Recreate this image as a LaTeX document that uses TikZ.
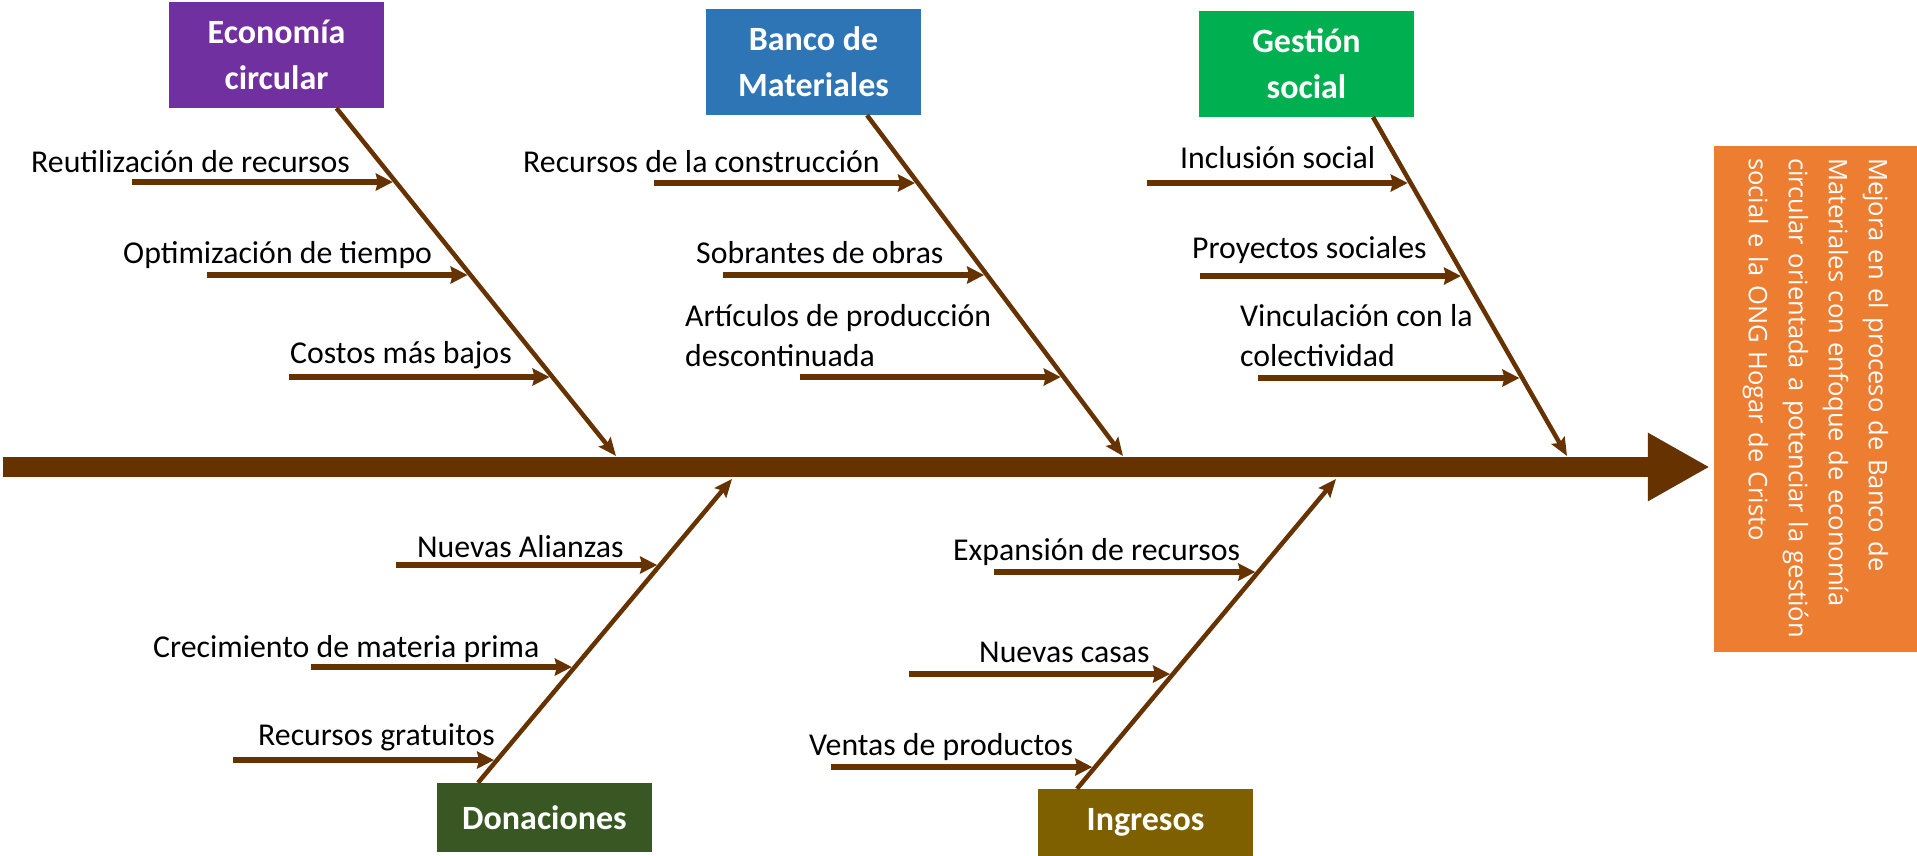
\documentclass[tikz,border=0pt]{standalone}
\usepackage{fontspec}
\setmainfont{Carlito}
\newfontfamily\goalfont{Open Sans}
\usepackage{tikz}
\usetikzlibrary{arrows.meta}

\definecolor{bonebrown}{HTML}{663300}
\definecolor{ecopurple}{HTML}{7030A0}
\definecolor{bancoblue}{HTML}{2E75B6}
\definecolor{gestgreen}{HTML}{00B050}
\definecolor{donagreen}{HTML}{385723}
\definecolor{ingrolive}{HTML}{7F6000}
\definecolor{goalorange}{HTML}{ED7D31}

\tikzset{
  catbox/.style={minimum width=215pt, inner sep=0pt, text=white, align=center,
                 font=\fontsize{34}{46}\selectfont\bfseries},
  causetext/.style={anchor=base west, inner sep=0pt, align=left,
                    font=\fontsize{31.8}{40}\selectfont},
  bone/.style={draw=bonebrown, line width=4.5pt, -{Stealth[length=18pt,width=15pt,inset=3pt]}},
  subarrow/.style={draw=bonebrown, line width=6pt, shorten >=3pt,
                   -{Stealth[length=17pt,width=17pt,inset=2pt]}},
  spine/.style={draw=bonebrown, line width=20pt, shorten >=4pt,
                -{Triangle[length=62pt,width=64pt]}},
  goalbox/.style={rotate=-90, fill=goalorange, text=white, minimum width=506pt,
                  minimum height=203pt, text width=482pt, inner xsep=12pt, align=left,
                  font=\goalfont\fontsize{25.5}{40}\selectfont}
}

\begin{document}
\begin{tikzpicture}[x=1pt,y=-1pt]
    \useasboundingbox (0,0) rectangle (1917,856);
    % Effect
    \node[goalbox] (goal) at (1815.5,399) {Mejora en el proceso de Banco de\\Materiales con enfoque de economía\\circular orientada a potenciar la gestión\\social e la ONG Hogar de Cristo};
    % Spine (goal is turned, so its south side faces left)
    \coordinate (tail) at (3,467);
    \draw[spine] (tail) -- (tail -| goal.south);
    % Categories
    \node[catbox, fill=ecopurple, minimum height=106pt] (eco) at (276.5,55) {Economía\\circular};
    \node[catbox, fill=bancoblue, minimum height=106pt] (banco) at (813.5,62) {Banco de\\Materiales};
    \node[catbox, fill=gestgreen, minimum height=106pt] (gest) at (1306.5,64) {Gestión\\social};
    \node[catbox, fill=donagreen, minimum height=69pt] (dona) at (544.5,817.5) {Donaciones};
    \node[catbox, fill=ingrolive, minimum height=67pt] (ingr) at (1145.5,822.5) {Ingresos};
    % Bones
    \coordinate (eco-root) at ([xshift=60pt]eco.south);
    \coordinate (eco-tip) at (616,456);
    \coordinate (banco-root) at ([xshift=53.5pt]banco.south);
    \coordinate (banco-tip) at (1123,456);
    \coordinate (gest-root) at ([xshift=66.5pt]gest.south);
    \coordinate (gest-tip) at (1567,456);
    \coordinate (dona-root) at ([xshift=-66.5pt]dona.north);
    \coordinate (dona-tip) at (732,479);
    \coordinate (ingr-root) at ([xshift=-68.5pt]ingr.north);
    \coordinate (ingr-tip) at (1336,479);
    \foreach \cat in {eco, banco, gest, dona, ingr} {
        \draw[bone] (\cat-root) -- (\cat-tip);
    }
    % Causes: arrow y / text x / last baseline / text
    \foreach \y/\tx/\ty/\lab [count=\i] in {182/31/172/Reutilización de recursos,
                                          275/123/263/Optimización de tiempo,
                                          377/290/363/Costos más bajos} {
        \coordinate (eco-\i) at (intersection of eco-root--eco-tip and 0,\y--100,\y);
        \coordinate (eco-\i-tail) at ([xshift=-264pt]eco-\i);
        \draw[subarrow] (eco-\i-tail) -- (eco-\i);
        \node[causetext] (eco-lab-\i) at (\tx,\ty) {\lab};
    }
    \foreach \y/\tx/\ty/\lab [count=\i] in {183/523/172/Recursos de la construcción,
                                          275/696/263/Sobrantes de obras,
                                          377/685/366/Artículos de producción\\descontinuada} {
        \coordinate (banco-\i) at (intersection of banco-root--banco-tip and 0,\y--100,\y);
        \coordinate (banco-\i-tail) at ([xshift=-264pt]banco-\i);
        \draw[subarrow] (banco-\i-tail) -- (banco-\i);
        \node[causetext] (banco-lab-\i) at (\tx,\ty) {\lab};
    }
    \foreach \y/\tx/\ty/\lab [count=\i] in {183/1180/168/Inclusión social,
                                          276/1192/258/Proyectos sociales,
                                          378/1240/366/Vinculación con la\\colectividad} {
        \coordinate (gest-\i) at (intersection of gest-root--gest-tip and 0,\y--100,\y);
        \coordinate (gest-\i-tail) at ([xshift=-264pt]gest-\i);
        \draw[subarrow] (gest-\i-tail) -- (gest-\i);
        \node[causetext] (gest-lab-\i) at (\tx,\ty) {\lab};
    }
    \foreach \y/\tx/\ty/\lab [count=\i] in {565/417/557/Nuevas Alianzas,
                                          667/153/657/Crecimiento de materia prima,
                                          760/258/745/Recursos gratuitos} {
        \coordinate (dona-\i) at (intersection of dona-root--dona-tip and 0,\y--100,\y);
        \coordinate (dona-\i-tail) at ([xshift=-264pt]dona-\i);
        \draw[subarrow] (dona-\i-tail) -- (dona-\i);
        \node[causetext] (dona-lab-\i) at (\tx,\ty) {\lab};
    }
    \foreach \y/\tx/\ty/\lab [count=\i] in {572/953/560/Expansión de recursos,
                                          674/979/662/Nuevas casas,
                                          767/809/755/Ventas de productos} {
        \coordinate (ingr-\i) at (intersection of ingr-root--ingr-tip and 0,\y--100,\y);
        \coordinate (ingr-\i-tail) at ([xshift=-264pt]ingr-\i);
        \draw[subarrow] (ingr-\i-tail) -- (ingr-\i);
        \node[causetext] (ingr-lab-\i) at (\tx,\ty) {\lab};
    }
\end{tikzpicture}
\end{document}
